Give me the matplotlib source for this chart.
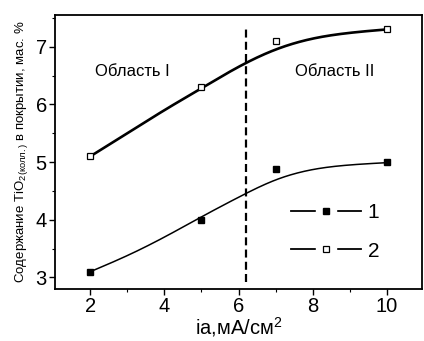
import numpy as np
import matplotlib
matplotlib.use('Agg')
from matplotlib import pyplot as plt
from matplotlib.lines import Line2D
from matplotlib.legend_handler import HandlerTuple
from matplotlib.ticker import MultipleLocator

plt.rcParams['font.family'] = ['Liberation Sans', 'DejaVu Sans']
plt.rcParams['mathtext.fontset'] = 'custom'
plt.rcParams['mathtext.rm'] = 'Liberation Sans'
plt.rcParams['mathtext.it'] = 'Liberation Sans:italic'
plt.rcParams['mathtext.bf'] = 'Liberation Sans:bold'

# measured points
ia = [2, 5, 7, 10]
s1 = [3.1, 4.0, 4.88, 5.0]
s2 = [5.1, 6.3, 7.1, 7.3]

# fitted curves
fit_x = [2, 3, 4, 5, 6, 7, 8, 9, 10]
fit1 = [3.1, 3.38, 3.70, 4.05, 4.39, 4.69, 4.87, 4.95, 4.99]
fit2 = [5.1, 5.5, 5.9, 6.28, 6.65, 6.95, 7.14, 7.24, 7.3]

boundary = 6.19
boundary_span = [2.92, 7.35]


def spline(x, y, xs):
    # natural cubic spline through the read values, just for drawing
    x = np.asarray(x, float)
    y = np.asarray(y, float)
    n = len(x)
    h = np.diff(x)
    A = np.zeros((n, n))
    b = np.zeros(n)
    A[0, 0] = A[-1, -1] = 1
    for i in range(1, n - 1):
        A[i, i - 1] = h[i - 1]
        A[i, i] = 2 * (h[i - 1] + h[i])
        A[i, i + 1] = h[i]
        b[i] = 6 * ((y[i + 1] - y[i]) / h[i] - (y[i] - y[i - 1]) / h[i - 1])
    M = np.linalg.solve(A, b)
    idx = np.clip(np.searchsorted(x, xs) - 1, 0, n - 2)
    x0, x1 = x[idx], x[idx + 1]
    hh = x1 - x0
    t0, t1 = x1 - xs, xs - x0
    return (M[idx] * t0 ** 3 / (6 * hh) + M[idx + 1] * t1 ** 3 / (6 * hh)
            + (y[idx] / hh - M[idx] * hh / 6) * t0 + (y[idx + 1] / hh - M[idx + 1] * hh / 6) * t1)


fig = plt.figure(figsize=(4.24, 3.41), dpi=100)
ax = fig.add_axes([0.130, 0.1525, 0.865, 0.8035])

xs = np.linspace(2, 10, 300)
ax.plot(xs, spline(fit_x, fit1, xs), color='black', lw=1.1)
ax.plot(xs, spline(fit_x, fit2, xs), color='black', lw=1.9)

ax.plot(ia, s1, ls='none', marker='s', ms=5, mfc='black', mec='black')
ax.plot(ia, s2, ls='none', marker='s', ms=5, mfc='white', mec='black', mew=0.9)

ax.plot([boundary, boundary], boundary_span, color='black', lw=1.6, dashes=(3.6, 1.9))

ax.text(3.13, 6.57, 'Область I', fontsize=12, ha='center', va='center')
ax.text(8.6, 6.57, 'Область II', fontsize=12, ha='center', va='center')

ax.set_xlim(1.05, 10.95)
ax.set_ylim(2.8, 7.55)
ax.xaxis.set_major_locator(MultipleLocator(2))
ax.xaxis.set_minor_locator(MultipleLocator(1))
ax.yaxis.set_major_locator(MultipleLocator(1))
ax.yaxis.set_minor_locator(MultipleLocator(0.5))
ax.tick_params(which='major', direction='out', length=4, width=1, labelsize=14.5, pad=2)
ax.tick_params(which='minor', direction='out', length=2.5, width=0.8)
for sp in ax.spines.values():
    sp.set_linewidth(1.3)

ax.set_xlabel('ia,мА/см$^2$', fontsize=14.5, labelpad=-1)
ax.set_ylabel('Содержание TiO$_{\\mathrm{2(колл.)}}$ в покрытии, мас. %', fontsize=9.5, labelpad=4)

# legend handles: line with a gap around the marker
ln = Line2D([], [], color='black', lw=1.3)
gap = Line2D([], [], ls='none', marker='s', ms=15, mfc='white', mec='white')
m1 = Line2D([], [], ls='none', marker='s', ms=5, mfc='black', mec='black')
m2 = Line2D([], [], ls='none', marker='s', ms=5, mfc='white', mec='black', mew=0.9)
ax.legend([(ln, gap, m1), (ln, gap, m2)], ['1', '2'],
          handler_map={tuple: HandlerTuple(ndivide=1)},
          loc='lower right', bbox_to_anchor=(0.935, 0.035), frameon=False,
          fontsize=15, handlelength=3.4, handletextpad=0.3, labelspacing=0.95)

fig.savefig('out.png', dpi=100)
